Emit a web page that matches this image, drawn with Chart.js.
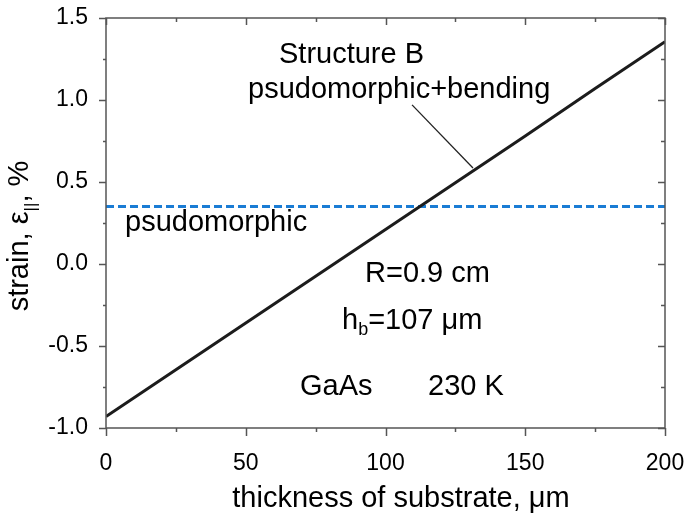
<!DOCTYPE html>
<html>
<head>
<meta charset="utf-8">
<script src="https://cdn.jsdelivr.net/npm/chart.js@4.4.0/dist/chart.umd.min.js"></script>
<style>
  html, body { margin: 0; padding: 0; background: #fff; }
  #wrap { width: 685px; height: 519px; }
</style>
</head>
<body>
<div id="wrap"><canvas id="strainChart" width="685" height="519"></canvas></div>
<script>
// ---- data ----
const thickness = [0, 25, 50, 75, 100, 125, 150, 175, 200];           // um
const strainBent = [-0.93, -0.645, -0.36, -0.075, 0.21, 0.495, 0.78, 1.07, 1.355]; // %
const pseudoX = [0, 200];
const pseudoY = [0.35, 0.35];
const leaderX = [109.5, 131.3];
const leaderY = [0.97, 0.585];
const xTicks = [0, 50, 100, 150, 200];
const yTicks = [-1.0, -0.5, 0.0, 0.5, 1.0, 1.5];

const FONT = "'Liberation Sans', Arial, sans-serif";
const AXIS = '#555';

const toPts = (xs, ys) => xs.map((x, i) => ({ x: x, y: ys[i] }));

// frame + ticks (out on left/bottom, in on top/right) + text labels
const decorPlugin = {
    id: 'decor',
    afterDatasetsDraw(chart) {
        const ctx = chart.ctx;
        const a = chart.chartArea;
        const xs = chart.scales.x, ys = chart.scales.y;
        ctx.save();
        ctx.strokeStyle = AXIS;
        ctx.lineWidth = 1.5;
        ctx.strokeRect(a.left, a.top, a.right - a.left, a.bottom - a.top);

        ctx.beginPath();
        for (let v = -1.0; v <= 1.5001; v += 0.25) {
            const py = Math.round(ys.getPixelForValue(v)) + 0.5;
            const major = Math.abs(v * 2 - Math.round(v * 2)) < 1e-6;
            const out = major ? 7 : 3, inn = major ? 7 : 4;
            ctx.moveTo(a.left - out, py); ctx.lineTo(a.left, py);
            ctx.moveTo(a.right, py); ctx.lineTo(a.right - inn, py);
        }
        for (let v = 0; v <= 200.001; v += 25) {
            const px = Math.round(xs.getPixelForValue(v)) + 0.5;
            const major = v % 50 === 0;
            const out = major ? 8 : 4, inn = major ? 7 : 4;
            ctx.moveTo(px, a.bottom); ctx.lineTo(px, a.bottom + out);
            ctx.moveTo(px, a.top); ctx.lineTo(px, a.top + inn);
        }
        ctx.stroke();

        // annotations
        ctx.fillStyle = '#000';
        ctx.textBaseline = 'alphabetic';
        ctx.textAlign = 'left';
        const big = `29px ${FONT}`;
        ctx.font = big;
        ctx.fillText('Structure B', 279, 63);
        ctx.fillText('psudomorphic+bending', 248, 98);
        ctx.fillText('psudomorphic', 125, 231);
        ctx.fillText('R=0.9 cm', 365, 282);
        ctx.fillText('GaAs', 300, 395);
        ctx.fillText('230 K', 428, 395);
        // h_b = 107 um
        let x = 342;
        ctx.fillText('h', x, 329); x += ctx.measureText('h').width;
        ctx.font = `18px ${FONT}`;
        ctx.fillText('b', x, 335); x += ctx.measureText('b').width;
        ctx.font = big;
        ctx.fillText('=107 \u03bcm', x, 329);

        // axis titles
        ctx.font = `29px ${FONT}`;
        ctx.textAlign = 'center';
        ctx.fillText('thickness of substrate, \u03bcm', 401, 507);

        ctx.translate(28, 236);
        ctx.rotate(-Math.PI / 2);
        ctx.textAlign = 'left';
        const p1 = 'strain, \u03b5', p2 = '||', p3 = ', %';
        ctx.font = `29px ${FONT}`;
        const w1 = ctx.measureText(p1).width, w3 = ctx.measureText(p3).width;
        ctx.font = `17px ${FONT}`;
        const w2 = ctx.measureText(p2).width;
        let tx = -(w1 + w2 + w3) / 2;
        ctx.font = `29px ${FONT}`;
        ctx.fillText(p1, tx, 0); tx += w1;
        ctx.font = `17px ${FONT}`;
        ctx.fillText(p2, tx, 8); tx += w2;
        ctx.font = `29px ${FONT}`;
        ctx.fillText(p3, tx, 0);
        ctx.restore();
    }
};

const ctx = document.getElementById('strainChart').getContext('2d');
const chart = new Chart(ctx, {
    type: 'line',
    data: {
        datasets: [
            { label: 'psudomorphic+bending', data: toPts(thickness, strainBent), borderColor: '#1c1c1c', borderWidth: 3, pointRadius: 0, tension: 0 },
            { label: 'psudomorphic', data: toPts(pseudoX, pseudoY), borderColor: '#1a7cd4', borderWidth: 3, borderDash: [8, 4], pointRadius: 0 },
            { label: 'leader', data: toPts(leaderX, leaderY), borderColor: '#222', borderWidth: 1.3, pointRadius: 0 }
        ]
    },
    options: {
        responsive: false,
        animation: false,
        layout: { padding: { top: 18, right: 20, left: 0, bottom: 0 } },
        plugins: { legend: { display: false }, tooltip: { enabled: false } },
        scales: {
            x: {
                type: 'linear', min: 0, max: 200,
                afterBuildTicks: s => { s.ticks = xTicks.map(v => ({ value: v })); },
                afterFit: s => { s.height = 91; s.paddingLeft = 0; s.paddingRight = 0; },
                grid: { display: false, drawTicks: false },
                border: { display: false },
                ticks: { color: '#000', padding: 22, maxRotation: 0, font: { family: FONT, size: 23 } }
            },
            y: {
                type: 'linear', min: -1.0, max: 1.5,
                afterBuildTicks: s => { s.ticks = yTicks.map(v => ({ value: v })); },
                afterFit: s => { s.width = 106; s.paddingTop = 0; s.paddingBottom = 0; },
                grid: { display: false, drawTicks: false },
                border: { display: false },
                ticks: { color: '#000', padding: 18, font: { family: FONT, size: 23 }, callback: v => Number(v).toFixed(1) }
            }
        }
    },
    plugins: [decorPlugin]
});
</script>
</body>
</html>
